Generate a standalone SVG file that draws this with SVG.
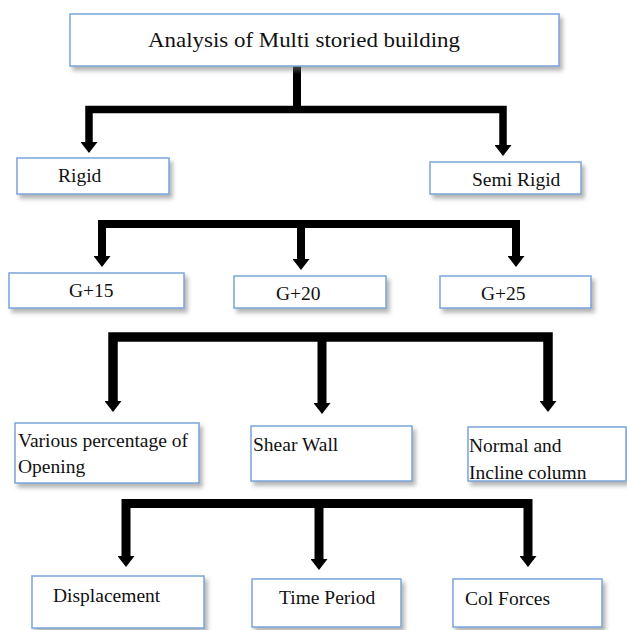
<svg xmlns="http://www.w3.org/2000/svg" width="627" height="630" viewBox="0 0 627 630">
<style>
.box{fill:#fff;stroke:#7aa5d9;stroke-width:1.5;filter:url(#sh)}
text{font-family:'Liberation Serif','DejaVu Serif',serif;font-size:19.5px;fill:#111}
.big{font-size:22px}
.c{fill:none;stroke:#000;stroke-linejoin:miter;stroke-linecap:butt}
</style>
<defs>
<filter id="sh" x="-10%" y="-20%" width="130%" height="160%">
<feDropShadow dx="3" dy="4" stdDeviation="2" flood-color="#777" flood-opacity="0.55"/>
</filter>
<marker id="ah" viewBox="0 0 11 17" markerWidth="11" markerHeight="17" refX="0" refY="8.5" orient="auto-start-reverse" markerUnits="userSpaceOnUse">
<path d="M0,0 L11,8.5 L0,17 Z" fill="#000"/>
</marker>
</defs>
<rect width="627" height="630" fill="#fff"/>
<g id="connectors">
<path class="c" d="M297,66 V107" stroke-width="8"/>
<path class="c" d="M89,142 V109.5 H503 V145" stroke-width="7.5" marker-start="url(#ah)" marker-end="url(#ah)"/>
<path class="c" d="M102,256 V224 H516 V256" stroke-width="8" marker-start="url(#ah)" marker-end="url(#ah)"/>
<path class="c" d="M301,224 V259" stroke-width="8" marker-end="url(#ah)"/>
<path class="c" d="M113,401 V337 H548 V401" stroke-width="9.5" marker-start="url(#ah)" marker-end="url(#ah)"/>
<path class="c" d="M322,337 V403" stroke-width="9" marker-end="url(#ah)"/>
<path class="c" d="M126,556 V503.5 H528 V556" stroke-width="9" marker-start="url(#ah)" marker-end="url(#ah)"/>
<path class="c" d="M319,503.5 V559" stroke-width="9" marker-end="url(#ah)"/>
</g>
<g id="n-top"><rect class="box" x="70" y="14" width="489" height="52"/><text class="big" x="148" y="47" textLength="312" lengthAdjust="spacingAndGlyphs" font-family="Liberation Serif">Analysis of Multi storied building</text></g>
<g id="n-rigid"><rect class="box" x="17" y="158" width="152" height="36"/><text x="58" y="182">Rigid</text></g>
<g id="n-semirigid"><rect class="box" x="430" y="162" width="151" height="32"/><text x="472" y="186">Semi Rigid</text></g>
<g id="n-g15"><rect class="box" x="9" y="273" width="175" height="35"/><text x="69" y="297">G+15</text></g>
<g id="n-g20"><rect class="box" x="234" y="276" width="152" height="32"/><text x="276" y="300">G+20</text></g>
<g id="n-g25"><rect class="box" x="440" y="276" width="151" height="32"/><text x="481" y="300">G+25</text></g>
<g id="n-various"><rect class="box" x="15" y="423" width="184" height="60"/><text x="18" y="447">Various percentage of</text><text x="18" y="473">Opening</text></g>
<g id="n-shear"><rect class="box" x="251" y="426" width="161" height="55"/><text x="253" y="451">Shear Wall</text></g>
<g id="n-normal"><rect class="box" x="468" y="427" width="158" height="54"/><text x="469" y="452">Normal and</text><text x="469" y="479">Incline column</text></g>
<g id="n-disp"><rect class="box" x="32" y="576" width="172" height="52"/><text x="53" y="602">Displacement</text></g>
<g id="n-time"><rect class="box" x="252" y="579" width="149" height="48"/><text x="279" y="604">Time Period</text></g>
<g id="n-col"><rect class="box" x="453" y="579" width="149" height="48"/><text x="465" y="605">Col Forces</text></g>
</svg>
